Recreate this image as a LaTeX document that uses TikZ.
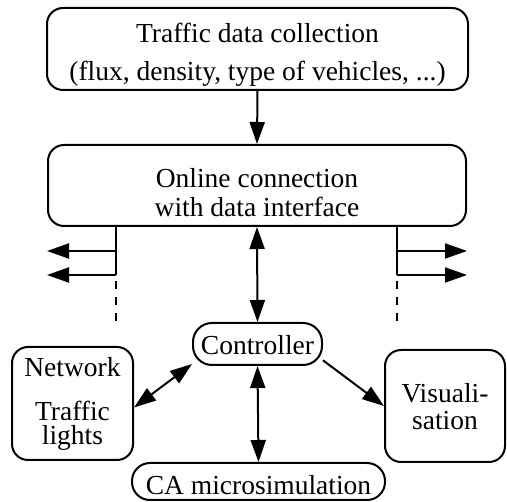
\documentclass[tikz,border=0pt]{standalone}
\usepackage{fontspec}
\setmainfont{Liberation Serif}
\usetikzlibrary{arrows.meta,calc}
\tikzset{
  box/.style={draw, line width=2pt, rounded corners=16pt, inner sep=0pt},
  pill/.style={draw, line width=2pt, rounded corners=19pt, inner sep=0pt},
  txt/.style={anchor=base, inner sep=0pt, font=\fontsize{27.5}{33}\selectfont},
  conn/.style={line width=2pt, -{Triangle[length=22pt,width=15pt]}},
  dconn/.style={line width=2pt, {Triangle[length=22pt,width=15pt]}-{Triangle[length=22pt,width=15pt]}},
  dots/.style={line width=2pt, dash pattern=on 8pt off 8pt}
}
\begin{document}
\begin{tikzpicture}[x=1pt,y=-1pt]
\useasboundingbox (0,0) rectangle (507,502);
% boxes
\node[box, minimum width=421pt, minimum height=82pt] (top) at (257.5,49) {};
\node[box, minimum width=418pt, minimum height=81pt] (mid) at (257,185.5) {};
\node[pill, minimum width=129pt, minimum height=42pt] (ctrl) at (257.5,344) {};
\node[box, minimum width=121pt, minimum height=113pt] (net) at (72.5,403.5) {};
\node[box, minimum width=120pt, minimum height=112pt] (vis) at (445,406) {};
\node[pill, rounded corners=18pt, minimum width=253pt, minimum height=37pt] (ca) at (258.5,481.5) {};
% texts
\node[txt] (top1) at (257.5,43) {Traffic data collection};
\node[txt] (top2) at (257.5,81) {(flux, density, type of vehicles, ...)};
\node[txt] (mid1) at (257,188) {Online connection};
\node[txt] (mid2) at (257,217) {with data interface};
\node[txt] (ctrlt) at (257.5,355) {Controller};
\node[txt] (net1) at (72.5,377) {Network};
\node[txt] (net2) at (72.5,421) {Traffic};
\node[txt] (net3) at (72.5,445) {lights};
\node[txt] (vis1) at (445,403) {Visuali-};
\node[txt] (vis2) at (445,430) {sation};
\node[txt] (cat) at (258.5,495) {CA microsimulation};
% connectors
\draw[conn] (top.south) -- (mid.north);
\draw[dconn] (mid.south) -- (ctrl.north);
\draw[dconn] (ctrl.south) -- (ca.north);
\draw[dconn] (net.east) ++(0,4) coordinate (ne) (ne) -- (ctrl.197);
\draw[conn] (ctrl.-14) -- (vis.west);
% branches
\coordinate (lb) at ($(mid.south west)+(69,0)$);
\coordinate (lb1) at ($(lb)+(0,24)$);
\coordinate (lb2) at ($(lb)+(0,48)$);
\coordinate (lb3) at ($(lb)+(0,54)$);
\coordinate (lb4) at ($(lb)+(0,96)$);
\coordinate (la1) at ($(mid.south west)+(0,24)$);
\coordinate (la2) at ($(mid.south west)+(0,48)$);
\draw[line width=2pt] (lb) -- (lb2);
\draw[conn] (lb1) -- (la1);
\draw[conn] (lb2) -- (la2);
\draw[dots] (lb3) -- (lb4);
\coordinate (rb) at ($(mid.south east)+(-70,0)$);
\coordinate (rb1) at ($(rb)+(0,24)$);
\coordinate (rb2) at ($(rb)+(0,48)$);
\coordinate (rb3) at ($(rb)+(0,54)$);
\coordinate (rb4) at ($(rb)+(0,96)$);
\coordinate (ra1) at ($(mid.south east)+(0,24)$);
\coordinate (ra2) at ($(mid.south east)+(0,48)$);
\draw[line width=2pt] (rb) -- (rb2);
\draw[conn] (rb1) -- (ra1);
\draw[conn] (rb2) -- (ra2);
\draw[dots] (rb3) -- (rb4);
\end{tikzpicture}
\end{document}
